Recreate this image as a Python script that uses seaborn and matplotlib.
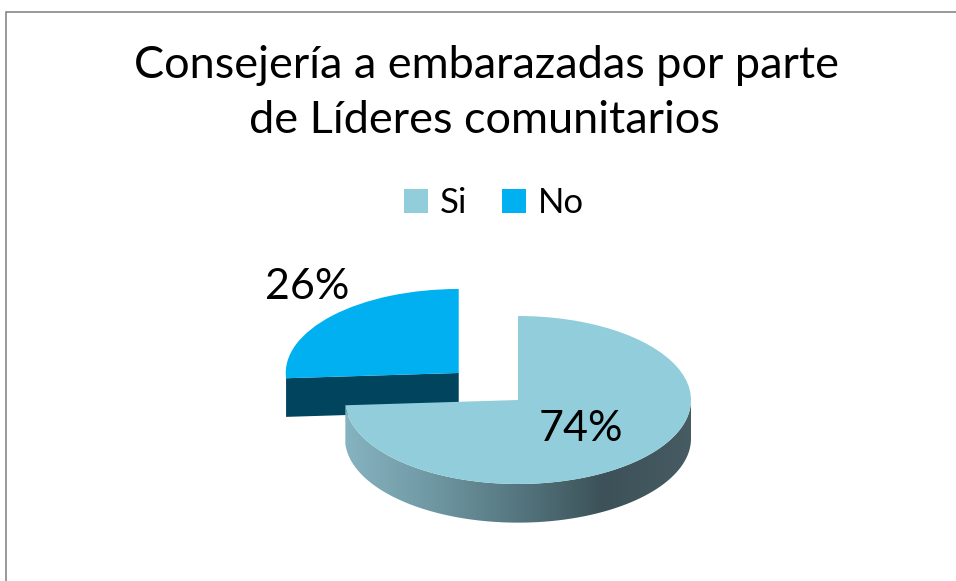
import numpy as np
import matplotlib
matplotlib.use("Agg")
import matplotlib.pyplot as plt
import seaborn as sns
from matplotlib.patches import Polygon, Rectangle
from matplotlib.colors import LinearSegmentedColormap

# ---- data ----
categories = ["Si", "No"]
values = [74, 26]
title_lines = ["Consejería a embarazadas por parte", "de Líderes comunitarios"]
explode = [0.0, 0.47]

# ---- style ----
top_colors = ["#92CDDC", "#00B0F0"]
side_colors = [["#86B3C0", "#6F98A3", "#55767F", "#3C5158", "#465C62"],
               ["#00445E", "#00445E"]]

sns.set_theme(style="white")
plt.rcParams["font.family"] = ["Lato", "DejaVu Sans"]
plt.rcParams["text.color"] = "black"

W, H = 956, 581
fig = plt.figure(figsize=(W / 100, H / 100), dpi=100)
ax = fig.add_axes([0, 0, 1, 1])

# pie geometry (pixels): centre and radii of the tilted ellipse
cx, cy = 518, 400
rx, ry = 173, 84
depth = 0.46  # thickness in y-units

wedges, texts, autotexts = ax.pie(
    values, startangle=90, counterclock=False, explode=explode,
    colors=top_colors, autopct="%1.0f%%", pctdistance=0.5,
    wedgeprops=dict(linewidth=0),
    textprops=dict(fontsize=31, color="black"))

# draw order: exploded "No" slice is behind
order_z = {0: 4, 1: 2}

for i, w in enumerate(wedges):
    t1, t2 = w.theta1, w.theta2
    ox, oy = w.center
    z = order_z[i]
    w.set_zorder(z + 0.5)
    cmap = LinearSegmentedColormap.from_list(f"side{i}", side_colors[i])
    # outer (front-facing) wall
    ang = np.linspace(t1, t2, 400)
    vis = np.sin(np.radians(ang)) < 0
    if vis.sum() > 1:
        a = np.radians(ang[vis])
        xs = ox + np.cos(a)
        ys = oy + np.sin(a)
        pts = np.vstack([np.column_stack([xs, ys]),
                         np.column_stack([xs[::-1], ys[::-1] - depth])])
        poly = Polygon(pts, closed=True, facecolor="none", edgecolor="none", zorder=z)
        ax.add_patch(poly)
        grad = np.linspace(0, 1, 256).reshape(1, -1)
        im = ax.imshow(grad, cmap=cmap, aspect="auto",
                       extent=(ox - 1, ox + 1, oy - 1 - depth, oy + 1),
                       zorder=z, interpolation="bilinear")
        im.set_clip_path(poly)
    # radial faces facing the viewer
    for edge, normal in ((t1, t1 - 90), (t2, t2 + 90)):
        if np.sin(np.radians(normal)) < -1e-6:
            ex, ey = ox + np.cos(np.radians(edge)), oy + np.sin(np.radians(edge))
            face = Polygon([(ox, oy), (ex, ey), (ex, ey - depth), (ox, oy - depth)],
                           closed=True, facecolor=side_colors[i][0],
                           edgecolor="none", zorder=z)
            ax.add_patch(face)

# percentage labels
for i, t in enumerate(autotexts):
    t.set_zorder(10)
    if explode[i] > 0:
        w = wedges[i]
        mid = np.radians((w.theta1 + w.theta2) / 2)
        ox, oy = w.center
        t.set_position((ox + 1.2 * np.cos(mid), oy + 1.5 * np.sin(mid)))

ax.set_aspect("auto")
ax.set_xlim((0 - cx) / rx, (W - cx) / rx)
ax.set_ylim((cy - H) / ry, cy / ry)
ax.axis("off")

# title
fig.text(486 / W, 1 - 78 / H, title_lines[0], ha="center", va="baseline", fontsize=32.5)
fig.text(484 / W, 1 - 133 / H, title_lines[1], ha="center", va="baseline", fontsize=32.5)

# legend
fig.legend(wedges, categories, loc="center", bbox_to_anchor=(494 / W, 1 - 203 / H),
           ncol=2, frameon=False, fontsize=25, handlelength=0.7, handleheight=0.7,
           handletextpad=0.33, columnspacing=1.0, borderpad=0)

# chart border
fig.add_artist(Rectangle((5.5 / W, -0.1), 1.2, 1.1 - 12.5 / H, transform=fig.transFigure,
                         fill=False, edgecolor="#888888", linewidth=1.2))

fig.savefig("out.png", dpi=100)
